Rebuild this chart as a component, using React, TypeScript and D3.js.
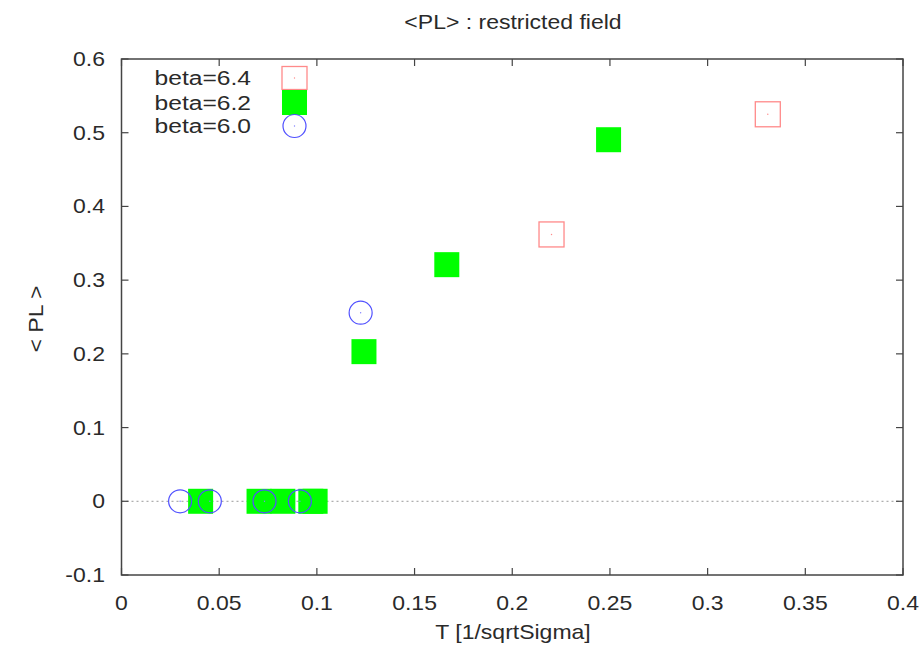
import React from "react";
import * as d3 from "d3";

const xTickValues = [0, 0.05, 0.1, 0.15, 0.2, 0.25, 0.3, 0.35, 0.4];
const xTickLabels = ["0", "0.05", "0.1", "0.15", "0.2", "0.25", "0.3", "0.35", "0.4"];
const yTickValues = [-0.1, 0, 0.1, 0.2, 0.3, 0.4, 0.5, 0.6];
const yTickLabels = ["-0.1", "0", "0.1", "0.2", "0.3", "0.4", "0.5", "0.6"];

const beta64X = [0.2201, 0.3308];
const beta64Y = [0.362, 0.525];
const beta62X = [0.0405, 0.0704, 0.0826, 0.0969, 0.0991, 0.1241, 0.1665, 0.2493];
const beta62Y = [0, 0, 0, 0, 0, 0.203, 0.321, 0.4905];
const beta60X = [0.03, 0.0452, 0.0732, 0.0913, 0.1224];
const beta60Y = [0, 0, 0, 0, 0.2558];

const legendLabels = ["beta=6.4", "beta=6.2", "beta=6.0"];

const titleText = "<PL> : restricted field";
const xAxisTitle = "T [1/sqrtSigma]";
const yAxisTitle = "< PL >";

const W = 922;
const H = 649;
const left = 121.5;
const right = 903;
const top = 59;
const bottom = 575;

const FONT = "'Liberation Sans', Arial, Helvetica, sans-serif";
const FS = 20;
const SX = 1.15;
const TXT = "#2a2a2a";

function T(props: { x: number; y: number; anchor: string; children: React.ReactNode; rotate?: number; sx?: number }) {
  const { x, y, anchor, children, rotate } = props;
  const s = props.sx || SX;
  const tr = rotate ? `translate(${x},${y}) rotate(${rotate}) scale(${s},1)` : `translate(${x},${y}) scale(${s},1)`;
  return (
    <text transform={tr} textAnchor={anchor} fontFamily={FONT} fontSize={FS} fill={TXT}>
      {children}
    </text>
  );
}

export default function App() {
  const x = d3.scaleLinear().domain([0, 0.4]).range([left, right]);
  const y = d3.scaleLinear().domain([-0.1, 0.6]).range([bottom, top]);
  const sq = 25;
  const r = 11.5;
  const tick = 7;
  const blue = "#5050ff";
  const red = "#ff8a8a";

  const legendY = [78, 102.5, 126];
  const legendSampleX = 294.5;

  return (
    <svg width={W} height={H} style={{ position: "absolute", left: 0, top: 0, background: "#fff" }}>
      <rect x={0} y={0} width={W} height={H} fill="#fff" />
      <line x1={x(0)} x2={x(0.4)} y1={y(0)} y2={y(0)} stroke="#999" strokeWidth={1} strokeDasharray="2,3" />

      {xTickValues.map((v, i) => (
        <g key={"xt" + i}>
          <line x1={x(v)} x2={x(v)} y1={bottom} y2={bottom - tick} stroke="#444" strokeWidth={1.2} />
          <line x1={x(v)} x2={x(v)} y1={top} y2={top + tick} stroke="#444" strokeWidth={1.2} />
          <T x={x(v)} y={610} anchor="middle">{xTickLabels[i]}</T>
        </g>
      ))}
      {yTickValues.map((v, i) => (
        <g key={"yt" + i}>
          <line x1={left} x2={left + tick} y1={y(v)} y2={y(v)} stroke="#444" strokeWidth={1.2} />
          <line x1={right} x2={right - tick} y1={y(v)} y2={y(v)} stroke="#444" strokeWidth={1.2} />
          <T x={105} y={y(v) + 7} anchor="end">{yTickLabels[i]}</T>
        </g>
      ))}

      <rect x={left} y={top} width={right - left} height={bottom - top} fill="none" stroke="#444" strokeWidth={1.5} />

      <T x={513} y={29} anchor="middle">{titleText}</T>
      <T x={513} y={639} anchor="middle">{xAxisTitle}</T>
      <T x={43} y={319} anchor="middle" rotate={-90}>{yAxisTitle}</T>

      {beta64X.map((v, i) => (
        <g key={"a" + i}>
          <rect x={x(v) - sq / 2} y={y(beta64Y[i]) - sq / 2} width={sq} height={sq} fill="none" stroke={red} strokeWidth={1.3} />
          <circle cx={x(v)} cy={y(beta64Y[i])} r={0.7} fill={red} />
        </g>
      ))}
      {beta62X.map((v, i) => (
        <rect key={"b" + i} x={x(v) - sq / 2} y={y(beta62Y[i]) - sq / 2} width={sq} height={sq} fill="#00ff00" />
      ))}
      {beta60X.map((v, i) => (
        <g key={"c" + i}>
          <circle cx={x(v)} cy={y(beta60Y[i])} r={r} fill="none" stroke={blue} strokeWidth={1.2} />
          <circle cx={x(v)} cy={y(beta60Y[i])} r={0.7} fill="#8080ff" />
        </g>
      ))}

      {legendLabels.map((l, i) => (
        <T key={"l" + i} x={251} y={legendY[i] + 7} anchor="end" sx={1.23}>{l}</T>
      ))}
      <rect x={legendSampleX - sq / 2} y={legendY[0] - 11.5} width={sq} height={23} fill="none" stroke={red} strokeWidth={1.3} />
      <circle cx={legendSampleX} cy={legendY[0]} r={0.7} fill={red} />
      <rect x={legendSampleX - sq / 2} y={legendY[1] - 12.5} width={sq} height={25} fill="#00ff00" />
      <circle cx={legendSampleX} cy={legendY[2]} r={r} fill="none" stroke={blue} strokeWidth={1.2} />
      <circle cx={legendSampleX} cy={legendY[2]} r={0.7} fill="#8080ff" />
    </svg>
  );
}
